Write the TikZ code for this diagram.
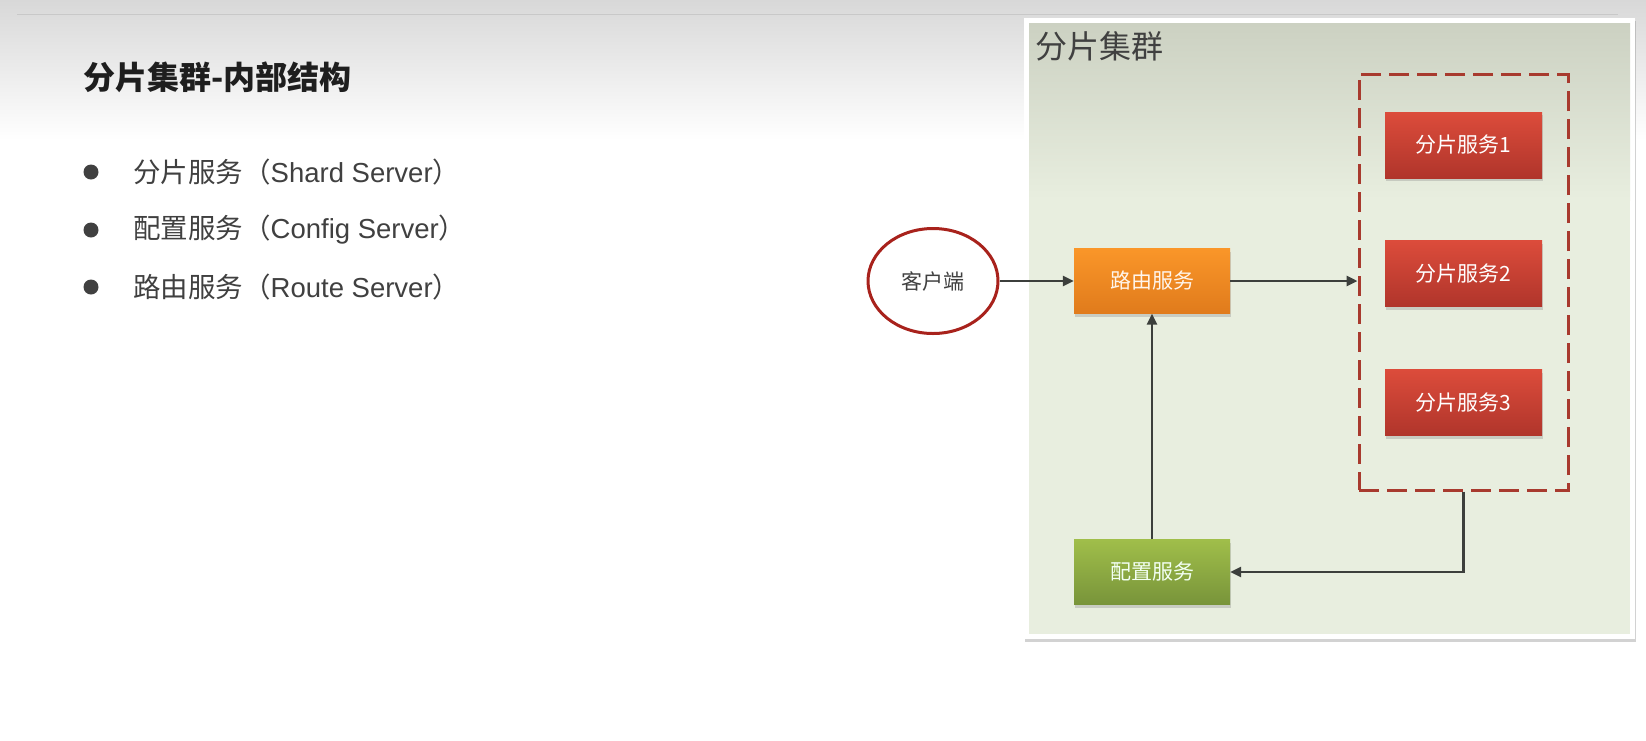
\documentclass[tikz,border=0pt]{standalone}
\usepackage{fontspec}
\setmainfont{Liberation Sans}
\newfontfamily\cjk{Noto Sans CJK SC}
\usetikzlibrary{shadows,arrows.meta,shapes.geometric}
\definecolor{txtgray}{HTML}{404040}
\definecolor{titleblk}{HTML}{1E1E1E}
\definecolor{bgtop}{HTML}{D8D8D8}
\definecolor{linegray}{HTML}{C8C8C8}
\definecolor{paneltop}{HTML}{CCD1C2}
\definecolor{panelbot}{HTML}{E8EEDF}
\definecolor{clientred}{HTML}{A8221C}
\definecolor{dashred}{HTML}{A83A2E}
\definecolor{orangetop}{HTML}{FA9629}
\definecolor{orangebot}{HTML}{E07B1C}
\definecolor{redtop}{HTML}{DC4C3B}
\definecolor{redbot}{HTML}{B0352B}
\definecolor{greentop}{HTML}{A0BE4A}
\definecolor{greenbot}{HTML}{78943A}
\definecolor{arrowgray}{HTML}{3C3F3C}
\begin{document}
\begin{tikzpicture}[x=1pt,y=-1pt,
  boxbase/.style={rectangle, minimum width=156pt, minimum height=65pt, inner sep=0pt,
    font=\cjk\fontsize{21}{25}\selectfont,
    drop shadow={shadow xshift=1pt, shadow yshift=-3pt, opacity=0.3}},
  routerbox/.style={boxbase, top color=orangetop, bottom color=orangebot, text=white!92!orange},
  shardbox/.style={boxbase, minimum width=157pt, minimum height=66pt, top color=redtop, bottom color=redbot, text=white},
  configbox/.style={boxbase, top color=greentop, bottom color=greenbot, text=white!95!green},
  conn/.style={draw=arrowgray, line width=2.8pt, -{Triangle[length=11pt,width=10pt]}},
  bullettext/.style={anchor=west, inner sep=0pt, text=txtgray, font=\fontsize{27.5}{32}\selectfont}
]
\useasboundingbox (0,0) rectangle (1646,740);
\fill[white] (0,0) rectangle (1646,740);
\shade[top color=bgtop, bottom color=white] (0,0) rectangle (1646,140);
\draw[linegray, line width=1pt] (17,14) -- (1618,14);

% left text
\node[anchor=west, inner sep=0pt, text=titleblk, font=\cjk\bfseries\fontsize{32}{36}\selectfont] (title) at (83,77) {分片集群-内部结构};
\fill[txtgray] (91,172) circle (7.5);
\fill[txtgray] (91,230) circle (7.5);
\fill[txtgray] (91,287) circle (7.5);
\node[bullettext] (b1) at (133,172) {{\cjk 分片服务（}Shard Server{\cjk ）}};
\node[bullettext] (b2) at (133,230) {{\cjk 配置服务（}Config Server{\cjk ）}};
\node[bullettext] (b3) at (133,287) {{\cjk 路由服务（}Route Server{\cjk ）}};

% panel
\fill[white, drop shadow={shadow xshift=1pt, shadow yshift=-3pt, opacity=0.35}] (1024,18) rectangle (1635,639);
\fill[panelbot] (1029,23) rectangle (1630,634);
\shade[top color=paneltop, bottom color=panelbot] (1029,23) rectangle (1630,200);
\node[anchor=west, inner sep=0pt, text=txtgray, font=\cjk\fontsize{32}{36}\selectfont] (ptitle) at (1035,46) {分片集群};

% group of shards
\node[draw=dashred, line width=3pt, dash pattern=on 20pt off 8pt, rectangle,
  minimum width=209pt, minimum height=416pt, inner sep=0pt] (group) at (1463.5,282) {};
\node[shardbox] (s1) at (1463.5,145) {分片服务1};
\node[shardbox] (s2) at (1463.5,273.5) {分片服务2};
\node[shardbox] (s3) at (1463.5,402.5) {分片服务3};

% router, config, client
\node[routerbox] (router) at (1152,281) {路由服务};
\node[configbox] (config) at (1152,572) {配置服务};
\node[ellipse, draw=clientred, line width=3pt, fill=white, minimum width=130pt, minimum height=105pt,
  inner sep=0pt, text=txtgray, font=\cjk\fontsize{21}{25}\selectfont] (client) at (933,281) {客户端};

% connectors
\draw[conn] (client.east) -- (router.west);
\draw[conn] (router.east) -- (router.east -| group.west);
\draw[conn, line width=2.4pt] (config.north) -- (router.south);
\draw[conn, line width=2.4pt] (group.south) |- (config.east);
\end{tikzpicture}
\end{document}
